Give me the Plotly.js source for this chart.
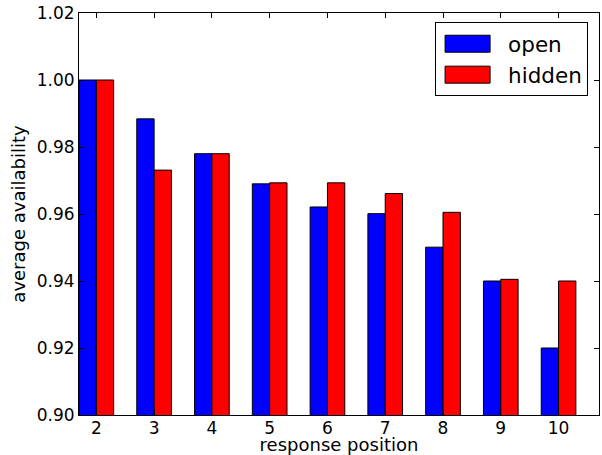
<!DOCTYPE html>
<html>
<head>
<meta charset="utf-8">
<script src="https://cdn.plot.ly/plotly-3.0.1.min.js"></script>
<style>
  html, body { margin: 0; padding: 0; background: #ffffff; }
  #chart { width: 602px; height: 455px; }
</style>
</head>
<body>
<div id="chart"></div>
<script>
// Response positions on the x axis
const positions = [2, 3, 4, 5, 6, 7, 8, 9, 10];
// Average availability per response position
const openAvail   = [1.000, 0.9884, 0.978, 0.9690, 0.9621, 0.9601, 0.9501, 0.9400, 0.9200];
const hiddenAvail = [1.000, 0.9731, 0.978, 0.9693, 0.9693, 0.9661, 0.9605, 0.9405, 0.9400];
const seriesNames = ['open', 'hidden'];
const yTickValues = [0.90, 0.92, 0.94, 0.96, 0.98, 1.00, 1.02];
const yTickLabels = ['0.90', '0.92', '0.94', '0.96', '0.98', '1.00', '1.02'];

const FONT = 'DejaVu Sans, Liberation Sans, sans-serif';

const traces = [
  {
    type: 'bar', name: seriesNames[0], x: positions, y: openAvail,
    legendgroup: 'a',
    marker: { color: '#0000ff', line: { color: '#000000', width: 1 } }
  },
  {
    type: 'bar', name: seriesNames[1], x: positions, y: hiddenAvail,
    legendgroup: 'b',
    marker: { color: '#ff0000', line: { color: '#000000', width: 1 } }
  }
];

const axisCommon = {
  showline: true, linecolor: '#000000', linewidth: 1, mirror: 'allticks',
  ticks: 'inside', ticklen: 5, tickwidth: 1, tickcolor: '#000000',
  showgrid: false, zeroline: false,
  tickfont: { family: FONT, size: 17, color: '#000000' }
};

const layout = {
  width: 602, height: 455,
  margin: { l: 79, r: 3, t: 13, b: 40 },
  paper_bgcolor: '#ffffff', plot_bgcolor: '#ffffff',
  barmode: 'group', bargap: 0.4, bargroupgap: 0,
  showlegend: true,
  legend: {
    x: 0.979, xanchor: 'right', y: 0.977, yanchor: 'top',
    bgcolor: '#ffffff', bordercolor: '#000000', borderwidth: 1,
    font: { family: FONT, size: 21.5, color: '#000000' },
    itemwidth: 62, tracegroupgap: 7, traceorder: 'normal'
  },
  xaxis: Object.assign({}, axisCommon, {
    range: [1.7, 10.7],
    ticklabelstandoff: -2,
    tickmode: 'array', tickvals: positions, ticktext: positions.map(String),
    title: { text: 'response position', font: { family: FONT, size: 18, color: '#000000' }, standoff: 6 }
  }),
  yaxis: Object.assign({}, axisCommon, {
    range: [0.90, 1.02],
    tickmode: 'array', tickvals: yTickValues, ticktext: yTickLabels,
    title: { text: 'average availability', font: { family: FONT, size: 18, color: '#000000' }, standoff: 6 }
  })
};

Plotly.newPlot('chart', traces, layout, { staticPlot: true, displayModeBar: false }).then(function () {
  // Widen the legend swatches into flat rectangles
  document.querySelectorAll('#chart .legend g.legendpoints path').forEach(function (p) {
    p.setAttribute('d', 'M-27,8.5H18V-8.5H-27Z');
  });
});
</script>
</body>
</html>
